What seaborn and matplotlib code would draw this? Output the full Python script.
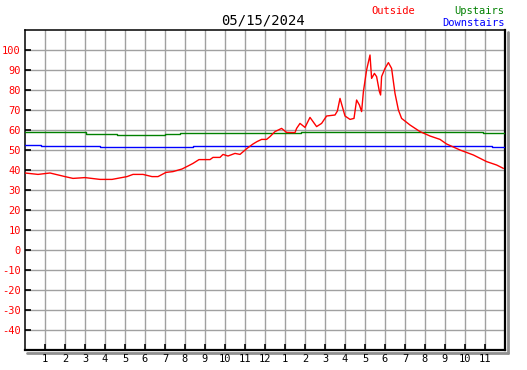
import matplotlib
matplotlib.use("Agg")
import matplotlib.pyplot as plt
import seaborn as sns
import pandas as pd
from matplotlib.lines import Line2D

sns.set_style("white")
plt.rcParams['font.family'] = ['DejaVu Sans Mono']

title = "05/15/2024"

# Outside temperature (hour of day, degrees)
out_hours = [0.0, 0.65, 1.25, 2.0, 2.4, 3.0, 3.75, 4.35, 5.1, 5.4, 5.9, 6.35, 6.65, 7.05,
             7.4, 7.85, 8.15, 8.4, 8.7, 9.25, 9.4, 9.75, 9.9, 10.15, 10.5, 10.75, 11.1,
             11.4, 11.6, 11.83, 12.08, 12.25, 12.5, 12.83, 13.08, 13.5, 13.58, 13.75,
             14.0, 14.25, 14.58, 14.83, 15.08, 15.5, 15.62, 15.75, 16.0, 16.25, 16.45,
             16.58, 16.72, 16.83, 16.92, 17.08, 17.25, 17.33, 17.47, 17.58, 17.72, 17.78,
             17.83, 18.0, 18.17, 18.33, 18.5, 18.67, 18.83, 19.25, 19.75, 20.25, 20.75,
             21.08, 21.75, 22.42, 23.08, 23.58, 23.92]
out_vals = [38.5, 37.8, 38.5, 36.7, 35.8, 36.2, 35.3, 35.3, 36.7, 37.8, 37.8, 36.7, 36.7, 38.8,
            39.2, 40.5, 42.0, 43.3, 45.2, 45.2, 46.3, 46.3, 47.8, 47.0, 48.3, 47.8, 50.8,
            53.0, 54.2, 55.3, 55.3, 56.7, 59.2, 60.8, 58.8, 58.7, 60.8, 63.3,
            61.3, 66.3, 61.7, 63.3, 67.0, 67.5, 69.5, 75.8, 67.0, 65.3, 65.8,
            75.0, 72.5, 69.2, 79.2, 90.0, 97.5, 85.8, 88.3, 86.7, 79.2, 77.5,
            86.7, 90.8, 93.7, 90.8, 78.3, 70.0, 65.8, 62.5, 59.2, 57.0, 55.3,
            53.0, 50.0, 47.5, 44.2, 42.5, 40.8]

# Upstairs temperature (step changes)
up_hours = [0.0, 1.6, 3.05, 4.6, 6.35, 7.0, 7.75, 13.8, 22.9, 24.0]
up_vals = [59.2, 58.8, 58.2, 57.75, 57.3, 57.8, 58.3, 59.2, 58.3, 58.3]

# Downstairs temperature (step changes)
down_hours = [0.0, 0.8, 3.75, 8.4, 23.35, 24.0]
down_vals = [52.3, 51.8, 51.3, 51.8, 51.3, 51.3]

x_ticks = list(range(1, 24))
x_labels = [str(h) for h in list(range(1, 13)) + list(range(1, 12))]
y_ticks = list(range(-40, 101, 10))

W, H = 527, 370
fig = plt.figure(figsize=(W / 100, H / 100), dpi=100)
L, R, T, B = 25, 505, 30, 350
ax = fig.add_axes([L / W, (H - B) / H, (R - L) / W, (B - T) / H])

# drop shadow
sh = 2.5
fig.add_artist(Line2D([(R + sh) / W, (R + sh) / W], [(H - B - sh) / H, (H - T - 2) / H],
                      color="#909090", lw=2, transform=fig.transFigure, zorder=0))
fig.add_artist(Line2D([(L + 2) / W, (R + sh) / W], [(H - B - sh) / H, (H - B - sh) / H],
                      color="#909090", lw=2, transform=fig.transFigure, zorder=0))

df_out = pd.DataFrame({"h": out_hours, "v": out_vals})
df_up = pd.DataFrame({"h": up_hours, "v": up_vals})
df_down = pd.DataFrame({"h": down_hours, "v": down_vals})

sns.lineplot(data=df_up, x="h", y="v", ax=ax, color="#008000", lw=1.0,
             drawstyle="steps-post", zorder=3)
sns.lineplot(data=df_down, x="h", y="v", ax=ax, color="#0000ff", lw=1.0,
             drawstyle="steps-post", zorder=3)
sns.lineplot(data=df_out, x="h", y="v", ax=ax, color="#ff0000", lw=1.0, zorder=4)

ax.set_xlim(0, 24)
ax.set_ylim(-50, 110)
ax.set_xticks(x_ticks)
ax.set_xticklabels(x_labels, fontsize=7.5, color="black")
ax.set_yticks(y_ticks)
ax.set_yticklabels([str(v) for v in y_ticks], fontsize=7.5, color="#ff0000")
ax.set_xlabel("")
ax.set_ylabel("")
ax.grid(True, color="#a0a0a0", lw=1.0)
ax.set_axisbelow(True)
ax.tick_params(axis="both", direction="in", length=4, width=1.2, color="black",
               left=True, bottom=True, pad=3)
for name, s in ax.spines.items():
    s.set_color("black")
    s.set_visible(True)
    s.set_linewidth(1.6 if name in ("right", "bottom") else 1.1)

fig.text(263.5 / W, 1 - 20 / H, title, ha="center", va="center", fontsize=10, color="black")
fig.text(393 / W, 1 - 11 / H, "Outside", ha="center", va="center", fontsize=7.5, color="#ff0000")
fig.text(504.5 / W, 1 - 11 / H, "Upstairs", ha="right", va="center", fontsize=7.5, color="#008000")
fig.text(504.5 / W, 1 - 23 / H, "Downstairs", ha="right", va="center", fontsize=7.5, color="#0000ff")

fig.savefig("out.png", dpi=100, facecolor="white")
